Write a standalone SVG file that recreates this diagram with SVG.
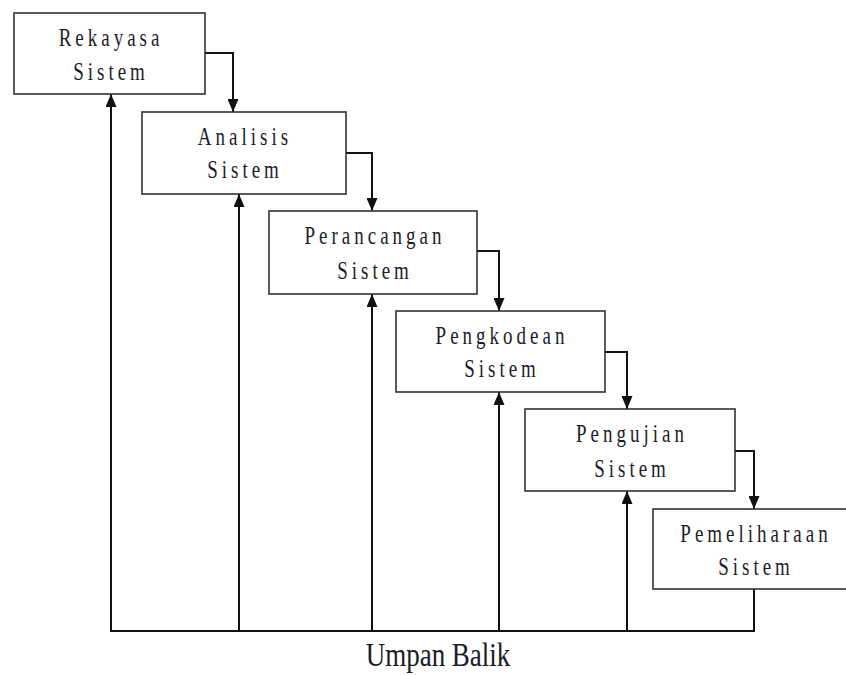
<svg xmlns="http://www.w3.org/2000/svg" width="846" height="675" viewBox="0 0 846 675">
<style>
.box{fill:#fff;stroke:#333;stroke-width:1.6}
.lbl{font-family:"Liberation Serif","Times New Roman",serif;font-size:19px;letter-spacing:4px;fill:#1c1c28;text-anchor:middle}
.cap{font-family:"Liberation Serif","Times New Roman",serif;font-size:27px;fill:#1c1c28;text-anchor:middle}
.ln{fill:none;stroke:#111;stroke-width:2}
</style>
<defs>
<marker id="ah" viewBox="0 0 13 11" refX="13" refY="5.5" markerWidth="13" markerHeight="11" markerUnits="userSpaceOnUse" orient="auto">
<path d="M0,0 L13,5.5 L0,11 Z" fill="#111"/>
</marker>
</defs>
<rect width="846" height="675" fill="#fff"/>
<g id="connectors">
<path class="ln" d="M205,53 H233 V112" marker-end="url(#ah)"/>
<path class="ln" d="M346,153 H372 V211" marker-end="url(#ah)"/>
<path class="ln" d="M477,251 H499 V311" marker-end="url(#ah)"/>
<path class="ln" d="M605,352 H627 V409" marker-end="url(#ah)"/>
<path class="ln" d="M735,451 H754 V509" marker-end="url(#ah)"/>
<path class="ln" d="M754,589 V631 H110"/>
<path class="ln" d="M111,631 V94" marker-end="url(#ah)"/>
<path class="ln" d="M239,631 V194" marker-end="url(#ah)"/>
<path class="ln" d="M372,631 V294" marker-end="url(#ah)"/>
<path class="ln" d="M499,631 V392" marker-end="url(#ah)"/>
<path class="ln" d="M627,631 V491" marker-end="url(#ah)"/>
</g>
<g id="n1">
<rect class="box" x="14" y="13" width="191" height="81"/>
<text class="lbl" transform="translate(111,46) scale(1,1.33)">Rekayasa</text>
<text class="lbl" transform="translate(111,80) scale(1,1.33)">Sistem</text>
</g>
<g id="n2">
<rect class="box" x="142" y="112" width="204" height="82"/>
<text class="lbl" transform="translate(245,145) scale(1,1.33)">Analisis</text>
<text class="lbl" transform="translate(245,178) scale(1,1.33)">Sistem</text>
</g>
<g id="n3">
<rect class="box" x="269" y="211" width="208" height="83"/>
<text class="lbl" transform="translate(375,244) scale(1,1.33)">Perancangan</text>
<text class="lbl" transform="translate(375,279) scale(1,1.33)">Sistem</text>
</g>
<g id="n4">
<rect class="box" x="396" y="311" width="209" height="81"/>
<text class="lbl" transform="translate(502,344) scale(1,1.33)">Pengkodean</text>
<text class="lbl" transform="translate(502,377) scale(1,1.33)">Sistem</text>
</g>
<g id="n5">
<rect class="box" x="525" y="409" width="210" height="82"/>
<text class="lbl" transform="translate(632,442) scale(1,1.33)">Pengujian</text>
<text class="lbl" transform="translate(632,477) scale(1,1.33)">Sistem</text>
</g>
<g id="n6">
<rect class="box" x="653" y="509" width="200" height="80"/>
<text class="lbl" transform="translate(756,542) scale(1,1.33)">Pemeliharaan</text>
<text class="lbl" transform="translate(756,575) scale(1,1.33)">Sistem</text>
</g>
<text class="cap" transform="translate(438,666) scale(1,1.28)">Umpan Balik</text>
</svg>
